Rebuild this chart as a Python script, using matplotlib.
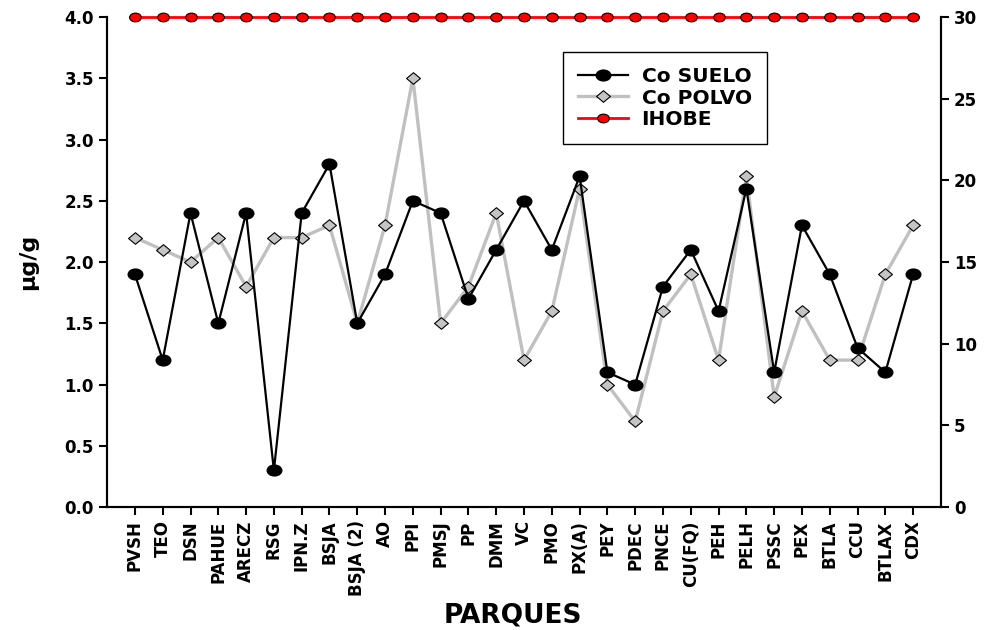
import matplotlib
matplotlib.use('Agg')
import matplotlib.pyplot as plt
from matplotlib.path import Path

plt.rcParams['font.family'] = ['DejaVu Sans']
plt.rcParams['font.weight'] = 'bold'

parques = ['PVSH', 'TEO', 'DSN', 'PAHUE', 'ARECZ', 'RSG', 'IPN.Z', 'BSJA', 'BSJA (2)', 'AO',
           'PPI', 'PMSJ', 'PP', 'DMM', 'VC', 'PMO', 'PX(A)', 'PEY', 'PDEC', 'PNCE',
           'CU(FQ)', 'PEH', 'PELH', 'PSSC', 'PEX', 'BTLA', 'CCU', 'BTLAX', 'CDX']
co_suelo = [1.9, 1.2, 2.4, 1.5, 2.4, 0.3, 2.4, 2.8, 1.5, 1.9,
            2.5, 2.4, 1.7, 2.1, 2.5, 2.1, 2.7, 1.1, 1.0, 1.8,
            2.1, 1.6, 2.6, 1.1, 2.3, 1.9, 1.3, 1.1, 1.9]
co_polvo = [2.2, 2.1, 2.0, 2.2, 1.8, 2.2, 2.2, 2.3, 1.5, 2.3,
            3.5, 1.5, 1.8, 2.4, 1.2, 1.6, 2.6, 1.0, 0.7, 1.6,
            1.9, 1.2, 2.7, 0.9, 1.6, 1.2, 1.2, 1.9, 2.3]
ihobe = [30] * len(parques)

x = list(range(len(parques)))

# the original picture is a bit stretched sideways, so markers are wide
circ = Path.unit_circle()
ellipse = Path(circ.vertices * [1.35, 1.0], circ.codes)
rhombus = Path([(0, 1), (1.2, 0), (0, -1), (-1.2, 0), (0, 1)],
               [Path.MOVETO, Path.LINETO, Path.LINETO, Path.LINETO, Path.CLOSEPOLY])

fig = plt.figure(figsize=(9.92, 6.3), dpi=100)
ax = fig.add_axes([0.108, 0.195, 0.8405, 0.778])
ax2 = ax.twinx()

l1, = ax.plot(x, co_suelo, color='black', lw=1.6, marker=ellipse, ms=10.5,
              mfc='black', mec='black', label='Co SUELO', zorder=3)
l2, = ax.plot(x, co_polvo, color='#c0c0c0', lw=2.4, marker=rhombus, ms=10,
              mfc='#c4c4c4', mec='black', mew=0.8, label='Co POLVO', zorder=2)
l3, = ax2.plot(x, ihobe, color='red', lw=2, marker=ellipse, ms=8.5,
               mfc='red', mec='black', mew=0.8, label='IHOBE', clip_on=False)

ax.set_xlim(-1, 29)
ax.set_ylim(0, 4.0)
ax2.set_ylim(0, 30)
ax.set_yticks([0, 0.5, 1.0, 1.5, 2.0, 2.5, 3.0, 3.5, 4.0])
ax.set_yticklabels(['%.1f' % v for v in ax.get_yticks()], fontsize=12, fontweight='bold')
ax2.set_yticks([0, 5, 10, 15, 20, 25, 30])
ax2.set_yticklabels([str(v) for v in [0, 5, 10, 15, 20, 25, 30]], fontsize=12, fontweight='bold')
ax.set_xticks(x)
ax.set_xticklabels(parques, rotation=90, fontsize=12, fontweight='bold')

for a in (ax, ax2):
    a.spines['top'].set_visible(False)
    for s in a.spines.values():
        s.set_linewidth(1.5)
    a.tick_params(direction='out', width=1.5, length=6)

fig.text(513 / 992, 7 / 630, 'PARQUES', fontsize=19, fontweight='bold',
         ha='center', va='baseline')
ax.set_ylabel('µg/g', fontsize=16, fontweight='bold')
ax.yaxis.set_label_coords(-0.083, 0.5)

leg = ax.legend([l1, l2, l3], ['Co SUELO', 'Co POLVO', 'IHOBE'],
                loc='upper left', bbox_to_anchor=(0.5468, 0.9286), borderaxespad=0,
                fancybox=False, edgecolor='black', framealpha=1,
                prop={'size': 14.5, 'weight': 'bold'}, handlelength=2.5,
                borderpad=0.75, labelspacing=0.12, handletextpad=0.65)
leg.get_frame().set_linewidth(1.0)

fig.savefig('out.png', dpi=100)
